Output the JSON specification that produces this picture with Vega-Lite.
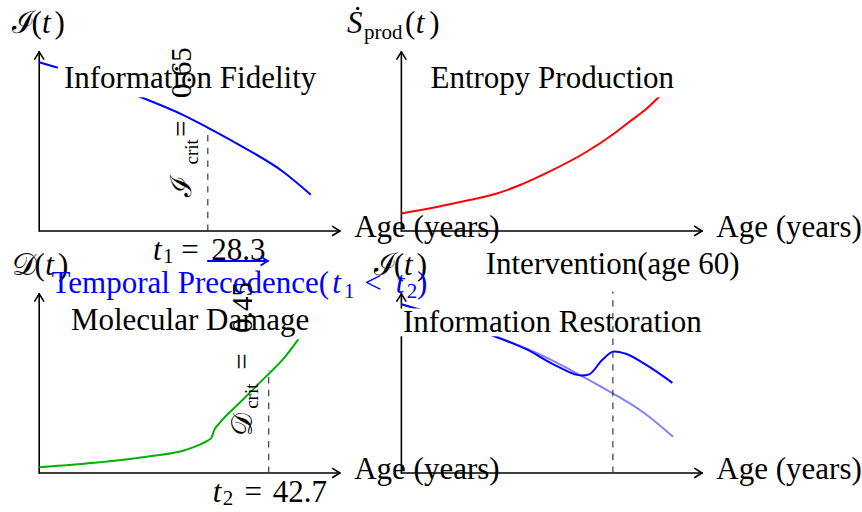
{
 "$schema": "https://vega.github.io/schema/vega-lite/v6.json",
 "width": 862, "height": 512,
 "autosize": {"type": "fit", "contains": "padding"},
 "padding": 0,
 "background": "white",
 "view": {"stroke": null},
 "datasets": {
  "curves": [
   {"x":0,"y":2.79,"s":"info"},{"x":0.31,"y":2.70,"s":"info"},{"x":1.0,"y":2.47,"s":"info"},{"x":1.69,"y":2.21,"s":"info"},{"x":2.38,"y":1.92,"s":"info"},{"x":2.79,"y":1.71,"s":"info"},{"x":3.32,"y":1.42,"s":"info"},{"x":4.04,"y":0.98,"s":"info"},{"x":4.5,"y":0.60,"s":"info"},
   {"x":6,"y":0.29,"s":"entropy"},{"x":6.479,"y":0.375,"s":"entropy"},{"x":7.03,"y":0.49,"s":"entropy"},{"x":7.582,"y":0.62,"s":"entropy"},{"x":7.967,"y":0.76,"s":"entropy"},{"x":8.408,"y":0.96,"s":"entropy"},{"x":9.069,"y":1.31,"s":"entropy"},{"x":9.509,"y":1.6,"s":"entropy"},{"x":9.785,"y":1.81,"s":"entropy"},{"x":10.061,"y":2.02,"s":"entropy"},{"x":10.253,"y":2.2,"s":"entropy"},{"x":10.5,"y":2.45,"s":"entropy"},
   {"x":0,"y":-3.907,"s":"damage"},{"x":1.003,"y":-3.824,"s":"damage"},{"x":1.83,"y":-3.725,"s":"damage"},{"x":2.436,"y":-3.615,"s":"damage"},{"x":2.767,"y":-3.477,"s":"damage"},{"x":2.85,"y":-3.422,"s":"damage"},{"x":2.904,"y":-3.284,"s":"damage"},{"x":2.987,"y":-3.174,"s":"damage"},{"x":3.317,"y":-2.843,"s":"damage"},{"x":3.759,"y":-2.403,"s":"damage"},{"x":4.033,"y":-2.127,"s":"damage"},{"x":4.309,"y":-1.769,"s":"damage"},{"x":4.5,"y":-1.5,"s":"damage"},
   {"x":6,"y":-1.21,"s":"baseline"},{"x":6.31,"y":-1.30,"s":"baseline"},{"x":7.0,"y":-1.53,"s":"baseline"},{"x":7.69,"y":-1.79,"s":"baseline"},{"x":8.38,"y":-2.08,"s":"baseline"},{"x":8.79,"y":-2.29,"s":"baseline"},{"x":9.32,"y":-2.58,"s":"baseline"},{"x":10.04,"y":-3.02,"s":"baseline"},{"x":10.5,"y":-3.40,"s":"baseline"},
   {"x":6,"y":-1.21,"s":"restored"},{"x":6.31,"y":-1.30,"s":"restored"},{"x":7.0,"y":-1.53,"s":"restored"},{"x":7.51,"y":-1.73,"s":"restored"},{"x":8.06,"y":-1.95,"s":"restored"},{"x":8.55,"y":-2.22,"s":"restored"},{"x":8.99,"y":-2.39,"s":"restored"},{"x":9.11,"y":-2.37,"s":"restored"},{"x":9.33,"y":-2.13,"s":"restored"},{"x":9.52,"y":-1.99,"s":"restored"},{"x":9.72,"y":-2.03,"s":"restored"},{"x":10.05,"y":-2.21,"s":"restored"},{"x":10.49,"y":-2.51,"s":"restored"}
  ],
  "segs": [
   {"x":0,"y":0,"x2":4.98,"y2":0,"k":"axis"},{"x":0,"y":0,"x2":0,"y2":2.96,"k":"axis"},
   {"x":4.98,"y":0,"x2":4.86,"y2":0.075,"k":"axis"},{"x":4.98,"y":0,"x2":4.86,"y2":-0.075,"k":"axis"},{"x":0,"y":2.96,"x2":-0.075,"y2":2.84,"k":"axis"},{"x":0,"y":2.96,"x2":0.075,"y2":2.84,"k":"axis"},
   {"x":6,"y":0,"x2":10.98,"y2":0,"k":"axis"},{"x":6,"y":0,"x2":6,"y2":2.96,"k":"axis"},
   {"x":10.98,"y":0,"x2":10.86,"y2":0.075,"k":"axis"},{"x":10.98,"y":0,"x2":10.86,"y2":-0.075,"k":"axis"},{"x":6,"y":2.96,"x2":5.925,"y2":2.84,"k":"axis"},{"x":6,"y":2.96,"x2":6.075,"y2":2.84,"k":"axis"},
   {"x":0,"y":-4,"x2":4.98,"y2":-4,"k":"axis"},{"x":0,"y":-4,"x2":0,"y2":-1.04,"k":"axis"},
   {"x":4.98,"y":-4,"x2":4.86,"y2":-3.925,"k":"axis"},{"x":4.98,"y":-4,"x2":4.86,"y2":-4.075,"k":"axis"},{"x":0,"y":-1.04,"x2":-0.075,"y2":-1.16,"k":"axis"},{"x":0,"y":-1.04,"x2":0.075,"y2":-1.16,"k":"axis"},
   {"x":6,"y":-4,"x2":10.98,"y2":-4,"k":"axis"},{"x":6,"y":-4,"x2":6,"y2":-1.04,"k":"axis"},
   {"x":10.98,"y":-4,"x2":10.86,"y2":-3.925,"k":"axis"},{"x":10.98,"y":-4,"x2":10.86,"y2":-4.075,"k":"axis"},{"x":6,"y":-1.04,"x2":5.925,"y2":-1.16,"k":"axis"},{"x":6,"y":-1.04,"x2":6.075,"y2":-1.16,"k":"axis"},
   {"x":2.793,"y":0,"x2":2.793,"y2":1.707,"k":"dash"},{"x":3.802,"y":-4,"x2":3.802,"y2":-2.298,"k":"dash"},{"x":9.504,"y":-4,"x2":9.504,"y2":-1.0,"k":"dash"},
   {"x":2.794,"y":-0.496,"x2":3.785,"y2":-0.496,"k":"blue"},{"x":3.785,"y":-0.496,"x2":3.68,"y2":-0.43,"k":"blue"},{"x":3.785,"y":-0.496,"x2":3.68,"y2":-0.562,"k":"blue"}
  ],
  "boxes": [
   {"x":0.31,"y":2.21,"x2":4.69,"y2":2.79},
   {"x":6.33,"y":2.21,"x2":10.67,"y2":2.79},
   {"x":0.46,"y":-1.79,"x2":4.54,"y2":-1.21},
   {"x":5.875,"y":-1.74,"x2":11.125,"y2":-1.28}
  ],
  "texts": [
   {"x":2.5,"y":2.36,"text":"Information Fidelity","role":"title"},
   {"x":8.5,"y":2.36,"text":"Entropy Production","role":"title"},
   {"x":2.5,"y":-1.631,"text":"Molecular Damage","role":"title"},
   {"x":8.5,"y":-1.676,"text":"Information Restoration","role":"title"},
   {"x":9.5,"y":-0.711,"text":"Intervention(age 60)","role":"title"},
   {"x":5.218,"y":-0.105,"text":"Age (years)","role":"up"},
   {"x":11.218,"y":-0.105,"text":"Age (years)","role":"up"},
   {"x":5.218,"y":-4.105,"text":"Age (years)","role":"up"},
   {"x":11.218,"y":-4.105,"text":"Age (years)","role":"up"},
   {"x":-0.451,"y":3.28,"text":"ℐ","role":"up"},{"x":-0.126,"y":3.28,"text":"(","role":"up"},{"x":0.045,"y":3.28,"text":"t","role":"it"},{"x":0.255,"y":3.28,"text":")","role":"up"},
   {"x":5.1,"y":3.27,"text":"Ṡ","role":"it"},{"x":5.38,"y":3.17,"text":"prod","role":"sub"},{"x":6.06,"y":3.27,"text":"(","role":"up"},{"x":6.24,"y":3.27,"text":"t","role":"it"},{"x":6.46,"y":3.27,"text":")","role":"up"},
   {"x":-0.45,"y":-0.72,"text":"𝒟","role":"up"},{"x":-0.08,"y":-0.72,"text":"(","role":"up"},{"x":0.1,"y":-0.72,"text":"t","role":"it"},{"x":0.31,"y":-0.72,"text":")","role":"up"},
   {"x":5.549,"y":-0.72,"text":"ℐ","role":"up"},{"x":5.874,"y":-0.72,"text":"(","role":"up"},{"x":6.045,"y":-0.72,"text":"t","role":"it"},{"x":6.255,"y":-0.72,"text":")","role":"up"},
   {"x":1.884,"y":-0.479,"text":"t","role":"it"},{"x":2.05,"y":-0.537,"text":"1","role":"sub"},{"x":2.354,"y":-0.479,"text":"=","role":"up"},{"x":2.85,"y":-0.479,"text":"28.3","role":"up"},
   {"x":2.876,"y":-4.479,"text":"t","role":"it"},{"x":3.04,"y":-4.537,"text":"2","role":"sub"},{"x":3.4,"y":-4.479,"text":"=","role":"up"},{"x":3.868,"y":-4.479,"text":"42.7","role":"up"},
   {"x":0.205,"y":-1.03,"text":"Temporal Precedence(","role":"bUp"},{"x":4.855,"y":-1.03,"text":"t","role":"bIt"},{"x":5.05,"y":-1.107,"text":"1","role":"bSub"},{"x":5.383,"y":-1.03,"text":"<","role":"bUp"},{"x":5.907,"y":-1.03,"text":"t","role":"bIt"},{"x":6.09,"y":-1.107,"text":"2","role":"bSub"},{"x":6.26,"y":-1.03,"text":")","role":"bUp"},
   {"x":2.507,"y":0.562,"text":"ℐ","role":"rUp"},{"x":2.63,"y":1.1,"text":"crit","role":"rSub"},{"x":2.507,"y":1.554,"text":"=","role":"rUp"},{"x":2.507,"y":2.198,"text":"0.65","role":"rUp"},
   {"x":3.524,"y":-3.395,"text":"𝒟","role":"rUp"},{"x":3.63,"y":-2.94,"text":"crit","role":"rSub"},{"x":3.524,"y":-2.293,"text":"=","role":"rUp"},{"x":3.524,"y":-1.681,"text":"0.45","role":"rUp"}
  ]
 },
 "encoding": {
  "x": {"field": "x", "type": "quantitative", "scale": {"domain": [-0.6496, 13.598], "nice": false, "zero": false}, "axis": null},
  "y": {"field": "y", "type": "quantitative", "scale": {"domain": [-4.645, 3.818], "nice": false, "zero": false}, "axis": null}
 },
 "layer": [
  {"data": {"name": "segs"}, "transform": [{"filter": "datum.k === 'axis'"}],
   "mark": {"type": "rule", "color": "black", "strokeWidth": 1.6, "strokeCap": "round"},
   "encoding": {"x2": {"field": "x2"}, "y2": {"field": "y2"}}},
  {"data": {"name": "curves"}, "transform": [{"filter": "datum.s !== 'restored'"}],
   "mark": {"type": "line", "interpolate": "monotone", "strokeWidth": 2},
   "encoding": {"color": {"field": "s", "type": "nominal", "legend": null,
     "scale": {"domain": ["info", "entropy", "damage", "baseline"], "range": ["#0000ff", "#ff0000", "#00b000", "#8080ff"]}}}},
  {"data": {"name": "curves"}, "transform": [{"filter": "datum.s === 'restored'"}],
   "mark": {"type": "line", "interpolate": "monotone", "strokeWidth": 2, "color": "#0000ff"},
   "encoding": {}},
  {"data": {"name": "boxes"},
   "mark": {"type": "rect", "fill": "white"},
   "encoding": {"x2": {"field": "x2"}, "y2": {"field": "y2"}}},
  {"data": {"name": "texts"}, "transform": [{"filter": "datum.role === 'title'"}],
   "mark": {"type": "text", "align": "center", "baseline": "alphabetic", "font": "Liberation Serif", "fontSize": 31, "color": "black"},
   "encoding": {"text": {"field": "text"}}},
  {"data": {"name": "texts"}, "transform": [{"filter": "datum.role === 'up'"}],
   "mark": {"type": "text", "align": "left", "baseline": "alphabetic", "font": "Liberation Serif", "fontSize": 31, "color": "black"},
   "encoding": {"text": {"field": "text"}}},
  {"data": {"name": "texts"}, "transform": [{"filter": "datum.role === 'it'"}],
   "mark": {"type": "text", "align": "left", "baseline": "alphabetic", "font": "Liberation Serif", "fontStyle": "italic", "fontSize": 31, "color": "black"},
   "encoding": {"text": {"field": "text"}}},
  {"data": {"name": "texts"}, "transform": [{"filter": "datum.role === 'sub'"}],
   "mark": {"type": "text", "align": "left", "baseline": "alphabetic", "font": "Liberation Serif", "fontSize": 21, "color": "black"},
   "encoding": {"text": {"field": "text"}}},
  {"data": {"name": "texts"}, "transform": [{"filter": "datum.role === 'bUp'"}],
   "mark": {"type": "text", "align": "left", "baseline": "alphabetic", "font": "Liberation Serif", "fontSize": 31, "color": "#0000ff"},
   "encoding": {"text": {"field": "text"}}},
  {"data": {"name": "texts"}, "transform": [{"filter": "datum.role === 'bIt'"}],
   "mark": {"type": "text", "align": "left", "baseline": "alphabetic", "font": "Liberation Serif", "fontStyle": "italic", "fontSize": 31, "color": "#0000ff"},
   "encoding": {"text": {"field": "text"}}},
  {"data": {"name": "texts"}, "transform": [{"filter": "datum.role === 'bSub'"}],
   "mark": {"type": "text", "align": "left", "baseline": "alphabetic", "font": "Liberation Serif", "fontSize": 21, "color": "#0000ff"},
   "encoding": {"text": {"field": "text"}}},
  {"data": {"name": "segs"}, "transform": [{"filter": "datum.k === 'dash'"}],
   "mark": {"type": "rule", "color": "#3a3a3a", "strokeWidth": 1.2, "strokeDash": [6.4, 6.4]},
   "encoding": {"x2": {"field": "x2"}, "y2": {"field": "y2"}}},
  {"data": {"name": "texts"}, "transform": [{"filter": "datum.role === 'rUp'"}],
   "mark": {"type": "text", "align": "left", "baseline": "alphabetic", "angle": 270, "font": "Liberation Serif", "fontSize": 29, "color": "black"},
   "encoding": {"text": {"field": "text"}}},
  {"data": {"name": "texts"}, "transform": [{"filter": "datum.role === 'rSub'"}],
   "mark": {"type": "text", "align": "left", "baseline": "alphabetic", "angle": 270, "font": "Liberation Serif", "fontSize": 19, "color": "black"},
   "encoding": {"text": {"field": "text"}}},
  {"data": {"name": "segs"}, "transform": [{"filter": "datum.k === 'blue'"}],
   "mark": {"type": "rule", "color": "#0000ff", "strokeWidth": 2, "strokeCap": "round"},
   "encoding": {"x2": {"field": "x2"}, "y2": {"field": "y2"}}}
 ]
}
